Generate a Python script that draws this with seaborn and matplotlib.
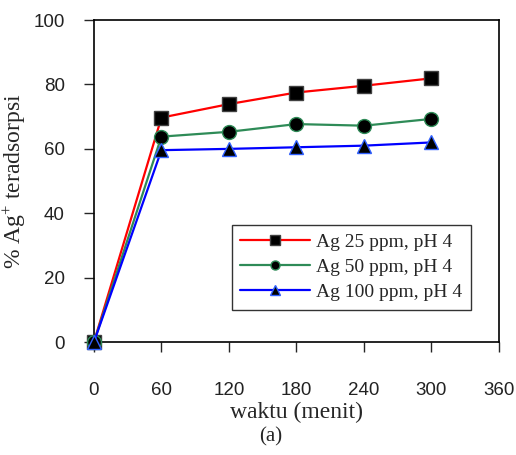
import matplotlib
matplotlib.use('Agg')

import pandas as pd
import seaborn as sns
import matplotlib.pyplot as plt

# waktu kontak (menit) dan % Ag+ teradsorpsi
waktu = [0, 60, 120, 180, 240, 300]
ag25 = [0, 69.7, 73.9, 77.5, 79.6, 81.9]
ag50 = [0, 63.8, 65.3, 67.7, 67.2, 69.3]
ag100 = [0, 59.6, 60.0, 60.5, 61.0, 62.0]
labels = ['Ag 25 ppm, pH 4', 'Ag 50 ppm, pH 4', 'Ag 100 ppm, pH 4']

df = pd.DataFrame({'waktu': waktu * 3,
                   'persen': ag25 + ag50 + ag100,
                   'seri': [labels[0]] * 6 + [labels[1]] * 6 + [labels[2]] * 6})

sns.set_style('ticks')
plt.rcParams['font.family'] = ['Liberation Sans', 'DejaVu Sans']
plt.rcParams['mathtext.fontset'] = 'custom'
plt.rcParams['mathtext.rm'] = 'Liberation Serif'
plt.rcParams['mathtext.it'] = 'Liberation Serif:italic'

fig = plt.figure(figsize=(5.16, 4.55), dpi=100)
ax = fig.add_axes([0.182, 0.248, 0.785, 0.708])

styles = [('red', 's', '#404040'), ('#2e8b57', 'o', '#2e8b57'), ('blue', '^', '#3060ff')]
for lab, (col, mk, edge) in zip(labels, styles):
    sub = df[df['seri'] == lab]
    sns.lineplot(data=sub, x='waktu', y='persen', ax=ax, color=col, marker=mk,
                 markersize=10, markerfacecolor='black', markeredgecolor=edge,
                 markeredgewidth=1, linewidth=1.6, label=lab, clip_on=False, zorder=3)

ax.set_xlim(0, 360)
ax.set_ylim(0, 100)
ax.set_xticks(range(0, 361, 60))
ax.set_yticks(range(0, 101, 20))
ax.tick_params(axis='x', length=7, width=1, pad=22, labelsize=13.5, labelcolor='#222222')
ax.tick_params(axis='y', length=7, width=1, pad=14, labelsize=13.5, labelcolor='#222222')
for s in ax.spines.values():
    s.set_linewidth(1.2)
    s.set_color('black')
    s.set_zorder(2)
ax.patch.set_facecolor('white')

ax.set_xlabel('waktu (menit)', family='Liberation Serif', fontsize=17, labelpad=2)
ax.set_ylabel(r'% Ag$^{\mathrm{+}}$ teradsorpsi', family='Liberation Serif', fontsize=17, labelpad=4)

leg = ax.legend(loc='lower right', bbox_to_anchor=(0.955, 0.07), frameon=True,
                fancybox=False, edgecolor='#333333', framealpha=1,
                prop={'family': 'Liberation Serif', 'size': 14},
                handlelength=3.6, borderpad=0.45, labelspacing=0.38, handletextpad=0.3,
                markerscale=0.65)
leg.get_frame().set_linewidth(1)

fig.text(0.525, 0.03, '(a)', family='Liberation Serif', fontsize=15, ha='center')

fig.savefig('out.png', dpi=100)
